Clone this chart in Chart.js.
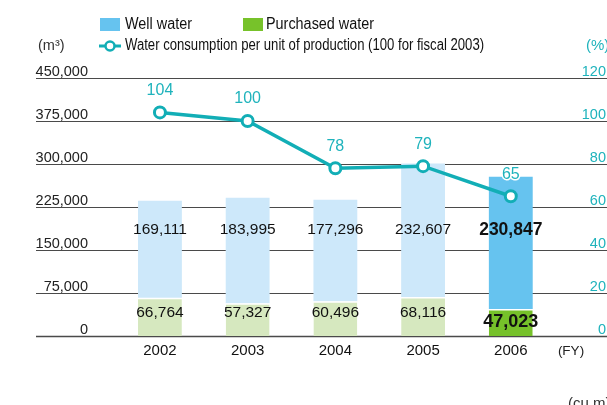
<!DOCTYPE html>
<html><head><meta charset="utf-8">
<script src="https://cdn.jsdelivr.net/npm/chart.js@4/dist/chart.umd.min.js"></script>
<style>html,body{margin:0;padding:0;background:#fff;overflow:hidden}canvas{display:block}</style>
</head><body>
<canvas id="c" width="607" height="405"></canvas>
<script>
const years = [2002, 2003, 2004, 2005, 2006];
const wellWater = [169111, 183995, 177296, 232607, 230847];
const purchasedWater = [66764, 57327, 60496, 68116, 47023];
const consumptionIndex = [104, 100, 78, 79, 65];
const leftTicks = [0, 75000, 150000, 225000, 300000, 375000, 450000];
const rightTicks = [0, 20, 40, 60, 80, 100, 120];
const highlightYear = 2006;

const TEAL = '#12aeb6';
const TEAL_TXT = '#1fb3bc';
const BASE = '"Liberation Sans", Arial, Helvetica, sans-serif';
const wellColors = years.map(y => y === highlightYear ? '#66c3ef' : '#cde8fa');
const purchColors = years.map(y => y === highlightYear ? '#76c12a' : '#d6e8bf');

function txt(ctx, s, x, y, o) {
  ctx.save();
  ctx.font = o.font; ctx.fillStyle = o.color || '#222';
  ctx.textAlign = o.align || 'left'; ctx.textBaseline = o.baseline || 'middle';
  ctx.translate(x, y); ctx.scale(o.sx || 1, 1);
  if (o.stroke) { ctx.strokeStyle = '#fff'; ctx.lineWidth = 3; ctx.lineJoin = 'round'; ctx.strokeText(s, 0, 0); }
  ctx.fillText(s, 0, 0);
  ctx.restore();
}

const fmt = v => v.toLocaleString('en-US');

const decor = {
  id: 'decor',
  beforeDatasetsDraw(chart) {
    const ctx = chart.ctx, y = chart.scales.y, y2 = chart.scales.y2;
    const x0 = 36, x1 = chart.width;
    ctx.save();
    leftTicks.forEach(v => {
      const py = Math.round(y.getPixelForValue(v)) + 0.5;
      ctx.strokeStyle = '#4a4a4a'; ctx.lineWidth = v === 0 ? 1.5 : 1.2;
      ctx.beginPath(); ctx.moveTo(x0, py); ctx.lineTo(x1, py); ctx.stroke();
      txt(ctx, fmt(v), 88, py - 3, {font: '14.5px ' + BASE, color: '#222', align: 'right', baseline: 'alphabetic'});
    });
    rightTicks.forEach(v => {
      const py = Math.round(y2.getPixelForValue(v)) + 0.5;
      txt(ctx, String(v), 606, py - 3, {font: '14.5px ' + BASE, color: TEAL_TXT, align: 'right', baseline: 'alphabetic'});
    });
    ctx.restore();
  },
  afterDatasetsDraw(chart) {
    const ctx = chart.ctx, x = chart.scales.x, y = chart.scales.y, y2 = chart.scales.y2;
    years.forEach((yr, i) => {
      const px = x.getPixelForValue(yr);
      const hi = yr === highlightYear;
      const f = hi ? 'bold 17.5px ' + BASE : '15.5px ' + BASE;
      txt(ctx, fmt(wellWater[i]), px, y.getPixelForValue(185000), {font: f, color: '#111', align: 'center'});
      const pAnchor = hi ? purchasedWater[i] / 2 : 40000;
      txt(ctx, fmt(purchasedWater[i]), px, y.getPixelForValue(pAnchor), {font: hi ? 'bold 18px ' + BASE : f, color: '#111', align: 'center'});
      txt(ctx, String(consumptionIndex[i]), px, y2.getPixelForValue(consumptionIndex[i]) - 22, {font: '16px ' + BASE, color: TEAL_TXT, align: 'center', stroke: true});
      txt(ctx, String(yr), px, 351, {font: '15px ' + BASE, color: '#111', align: 'center'});
    });
    txt(ctx, '(FY)', 571, 351, {font: '13.5px ' + BASE, color: '#222', align: 'center'});
  },
  afterDraw(chart) {
    const ctx = chart.ctx;
    ctx.fillStyle = '#66c3ef'; ctx.fillRect(100, 18, 20, 13);
    txt(ctx, 'Well water', 125, 25, {font: '16px ' + BASE, color: '#111', sx: 0.9});
    ctx.fillStyle = '#77c22a'; ctx.fillRect(243, 18, 20, 13);
    txt(ctx, 'Purchased water', 266, 25, {font: '16px ' + BASE, color: '#111', sx: 0.9});
    ctx.save();
    ctx.strokeStyle = TEAL; ctx.lineWidth = 3;
    ctx.beginPath(); ctx.moveTo(99, 46); ctx.lineTo(121, 46); ctx.stroke();
    ctx.fillStyle = '#fff'; ctx.lineWidth = 2.5;
    ctx.beginPath(); ctx.arc(110, 46, 4.5, 0, Math.PI * 2); ctx.fill(); ctx.stroke();
    ctx.restore();
    txt(ctx, 'Water consumption per unit of production (100 for fiscal 2003)', 125, 46, {font: '16px ' + BASE, color: '#111', sx: 0.82});
    txt(ctx, '(m³)', 38, 46, {font: '14.5px ' + BASE, color: '#333'});
    txt(ctx, '(%)', 586, 46, {font: '15px ' + BASE, color: TEAL_TXT});
    txt(ctx, '(cu.m)', 568, 408, {font: '15px ' + BASE, color: '#333', baseline: 'alphabetic'});
  }
};

new Chart(document.getElementById('c'), {
  data: {
    datasets: [
      {
        type: 'line', label: 'Water consumption per unit of production (100 for fiscal 2003)',
        yAxisID: 'y2', order: 0,
        data: years.map((yr, i) => ({x: yr, y: consumptionIndex[i]})),
        borderColor: TEAL, borderWidth: 3.5, tension: 0,
        pointRadius: 5.5, pointBackgroundColor: '#fff', pointBorderColor: TEAL, pointBorderWidth: 3
      },
      {
        type: 'bar', label: 'Purchased water', yAxisID: 'y', order: 1,
        data: years.map((yr, i) => ({x: yr, y: purchasedWater[i]})),
        backgroundColor: purchColors, borderColor: '#fff',
        borderWidth: {top: 1.5, left: 0, right: 0, bottom: 0}, borderSkipped: false,
        barPercentage: 0.5, categoryPercentage: 1
      },
      {
        type: 'bar', label: 'Well water', yAxisID: 'y', order: 1,
        data: years.map((yr, i) => ({x: yr, y: wellWater[i]})),
        backgroundColor: wellColors, borderWidth: 0,
        barPercentage: 0.5, categoryPercentage: 1
      }
    ]
  },
  options: {
    responsive: false, animation: false,
    layout: {padding: {left: 36, right: 0, top: 78, bottom: 69}},
    plugins: {legend: {display: false}, tooltip: {enabled: false}},
    scales: {
      x: {type: 'linear', display: false, min: 2000.587, max: 2007.0, stacked: true, offset: false},
      y: {display: false, min: 0, max: 450000, stacked: true},
      y2: {display: false, min: 0, max: 120, position: 'right'}
    }
  },
  plugins: [decor]
});
</script>
</body></html>
